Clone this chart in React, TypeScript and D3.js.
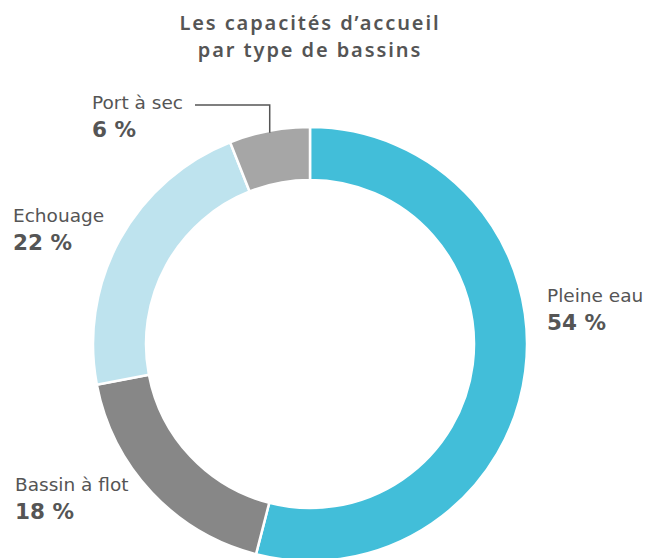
import React from "react";
import * as d3 from "d3";

const categories = ["Pleine eau", "Bassin à flot", "Echouage", "Port à sec"];
const values = [54, 18, 22, 6];
const valueLabels = ["54 %", "18 %", "22 %", "6 %"];
const colors = ["#42bed9", "#878787", "#bee3ee", "#a6a6a6"];
const titleLines = ["Les capacités d’accueil", "par type de bassins"];

const W = 648;
const H = 558;
const cx = 310;
const cy = 344;
const R = 217;
const r = 164;

// label anchor positions (x, baseline of name)
const labelPos: [number, number][] = [
  [547, 302],
  [15, 491],
  [13, 222],
  [92, 109],
];

export default function App() {
  const pie = d3.pie<number>().sort(null).value((d) => d)(values);
  const arc = d3.arc<d3.PieArcDatum<number>>().innerRadius(r).outerRadius(R);
  const font = "'DejaVu Sans', sans-serif";
  const txt = "#555555";

  const port = pie[3];
  const mid = (port.startAngle + port.endAngle) / 2;
  const px = cx + (R - 2) * Math.sin(mid);
  const py = cy - (R - 2) * Math.cos(mid);
  const lineY = 105;

  return (
    <svg
      width={W}
      height={H}
      style={{ position: "absolute", left: 0, top: 0, background: "#fff" }}
    >
      <g
        fontFamily="'Noto Sans', sans-serif"
        fill={txt}
        textAnchor="middle"
        fontWeight="600"
        fontSize={20}
        letterSpacing={1.9}
      >
        {titleLines.map((t, i) => (
          <text key={i} x={cx} y={30 + i * 27}>
            {t}
          </text>
        ))}
      </g>
      <g transform={`translate(${cx},${cy})`}>
        {pie.map((p, i) => (
          <path key={i} d={arc(p) || ""} fill={colors[i]} stroke="#fff" strokeWidth={2.5} />
        ))}
      </g>
      <path
        d={`M${px},${py}V${lineY}H195`}
        fill="none"
        stroke={txt}
        strokeWidth={1.5}
      />
      <g fontFamily={font} fill={txt}>
        {categories.map((c, i) => (
          <g key={c}>
            <text x={labelPos[i][0]} y={labelPos[i][1]} fontSize={18.5}>
              {c}
            </text>
            <text
              x={labelPos[i][0]}
              y={labelPos[i][1] + 28}
              fontSize={21.5}
              fontWeight="bold"
            >
              {valueLabels[i]}
            </text>
          </g>
        ))}
      </g>
    </svg>
  );
}
